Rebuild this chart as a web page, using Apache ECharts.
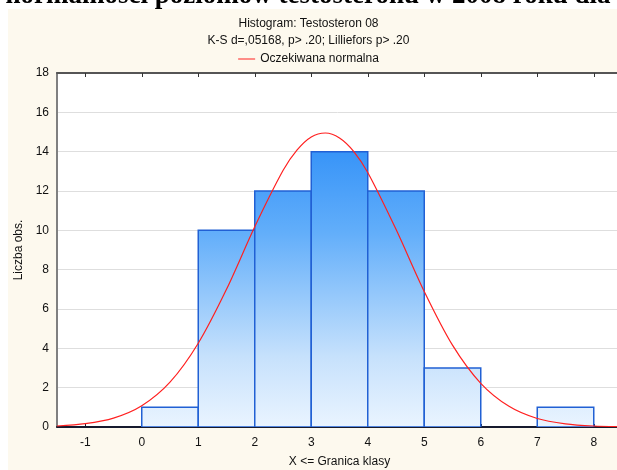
<!DOCTYPE html>
<html>
<head>
<meta charset="utf-8">
<script src="https://cdn.jsdelivr.net/npm/echarts@6/dist/echarts.min.js"></script>
<style>
  html, body { margin: 0; padding: 0; background: #ffffff; }
  #chart { width: 617px; height: 470px; }
</style>
</head>
<body>
<div id="chart"></div>
<script>
// Histogram class boundaries and observed counts per class
const binStarts = [0, 1, 2, 3, 4, 5, 6, 7];
const binEnds   = [1, 2, 3, 4, 5, 6, 7, 8];
const counts    = [1, 10, 12, 14, 12, 3, 0, 1];

// Expected normal curve (Oczekiwana normalna), sampled along the class axis
const curveX = [-1.5, -1, -0.5, 0, 0.5, 1, 1.5, 2, 2.5, 2.75, 3, 3.25, 3.5, 3.75, 4, 4.5, 5, 5.5, 6, 6.5, 7, 7.5, 8, 8.5];
const curveY = [0.05, 0.17, 0.45, 1.08, 2.28, 4.26, 7.0, 10.18, 13.04, 14.09, 14.75, 14.95, 14.7, 14.02, 12.94, 10.05, 6.89, 4.16, 2.22, 1.05, 0.43, 0.16, 0.05, 0.015];

// Axis tick labels
const xTicks = [-1, 0, 1, 2, 3, 4, 5, 6, 7, 8];
const yMin = 0, yMax = 18, yStep = 2;
const xMin = -1.5, xMax = 8.5;

const titleLines = ['Histogram: Testosteron 08', 'K-S d=,05168, p> .20; Lilliefors p> .20'];
const legendName = 'Oczekiwana normalna';
const headline = 'normalności poziomów testosteronu w 2008 roku dla';

const chart = echarts.init(document.getElementById('chart'), null, { renderer: 'canvas' });

const histData = binStarts.map((s, i) => [s, binEnds[i], counts[i]]);
const curveData = curveX.map((x, i) => [x, curveY[i]]);

const fontFamily = 'Arial, "Liberation Sans", sans-serif';

chart.setOption({
  backgroundColor: '#ffffff',
  animation: false,
  graphic: [
    {
      type: 'rect', z: -10, silent: true,
      shape: { x: 8, y: 9, width: 620, height: 470 },
      style: { fill: '#fdf9ee' }
    },
    {
      type: 'text', z: 10, silent: true,
      x: 308, y: 10,
      style: {
        text: headline,
        font: 'bold 27px "Liberation Serif", "Times New Roman", serif',
        fill: '#000000',
        align: 'center',
        verticalAlign: 'bottom'
      }
    }
  ],
  title: {
    text: titleLines.join('\n'),
    left: 'center',
    top: 10,
    textStyle: { fontFamily, fontSize: 12, fontWeight: 'normal', color: '#111111', lineHeight: 17 }
  },
  legend: {
    top: 48,
    left: 'center',
    itemWidth: 17,
    itemHeight: 1,
    itemGap: 6,
    icon: 'rect',
    textStyle: { fontFamily, fontSize: 12, color: '#111111' },
    data: [legendName]
  },
  grid: {
    left: 57, right: -5, top: 73, bottom: 43,
    containLabel: false,
    outerBoundsMode: 'none',
    show: true, backgroundColor: '#ffffff', borderWidth: 0
  },
  xAxis: [
    {
      type: 'value', min: xMin, max: xMax,
      name: 'X <= Granica klasy', nameLocation: 'middle', nameGap: 29,
      nameTextStyle: { fontFamily, fontSize: 12, color: '#111111' },
      axisLine: { onZero: false, lineStyle: { color: '#161a2e', width: 2 } },
      axisTick: { show: true, inside: true, length: 3, customValues: xTicks, lineStyle: { color: '#161a2e' } },
      axisLabel: { customValues: xTicks, fontFamily, fontSize: 12, color: '#111111', margin: 10 },
      splitLine: { show: false }
    },
    {
      type: 'value', position: 'top', min: xMin, max: xMax,
      axisLine: { onZero: false, lineStyle: { color: '#555555', width: 2 } },
      axisTick: { show: true, inside: true, length: 4, customValues: xTicks, lineStyle: { color: '#333333' } },
      axisLabel: { show: false },
      splitLine: { show: false }
    }
  ],
  yAxis: {
    type: 'value', min: yMin, max: yMax, interval: yStep,
    name: 'Liczba obs.', nameLocation: 'middle', nameGap: 30,
    nameTextStyle: { fontFamily, fontSize: 12, color: '#111111' },
    axisLine: { show: true, onZero: false, lineStyle: { color: '#808080', width: 2 } },
    axisTick: { show: false },
    axisLabel: { fontFamily, fontSize: 12, color: '#111111', margin: 8 },
    splitLine: { show: true, lineStyle: { color: '#dedede', width: 1 } }
  },
  series: [
    {
      type: 'custom',
      name: 'hist',
      xAxisIndex: 0,
      data: histData,
      encode: { x: [0, 1], y: 2 },
      clip: true,
      z: 2,
      renderItem: function (params, api) {
        const x0 = api.value(0), x1 = api.value(1), c = api.value(2);
        if (!c) return null;
        const pTop = api.coord([x0, c]);
        const pBase = api.coord([x1, 0]);
        const gTop = api.coord([x0, yMax])[1];
        const gBase = api.coord([x0, yMin])[1];
        return {
          type: 'rect',
          shape: { x: pTop[0], y: pTop[1], width: pBase[0] - pTop[0], height: pBase[1] - pTop[1] },
          style: {
            fill: new echarts.graphic.LinearGradient(0, gTop, 0, gBase, [
              { offset: 0, color: '#2a86f2' },
              { offset: 0.22, color: '#3794f8' },
              { offset: 0.45, color: '#62aefa' },
              { offset: 0.8, color: '#c6e1fc' },
              { offset: 1, color: '#eaf4ff' }
            ], true),
            stroke: '#2160d4',
            lineWidth: 1.5
          }
        };
      }
    },
    {
      type: 'line',
      name: legendName,
      xAxisIndex: 0,
      data: curveData,
      smooth: 0.3,
      showSymbol: false,
      symbol: 'none',
      z: 5,
      color: '#ff2020',
      lineStyle: { color: '#ff2020', width: 1.2 }
    }
  ]
});
</script>
</body>
</html>
